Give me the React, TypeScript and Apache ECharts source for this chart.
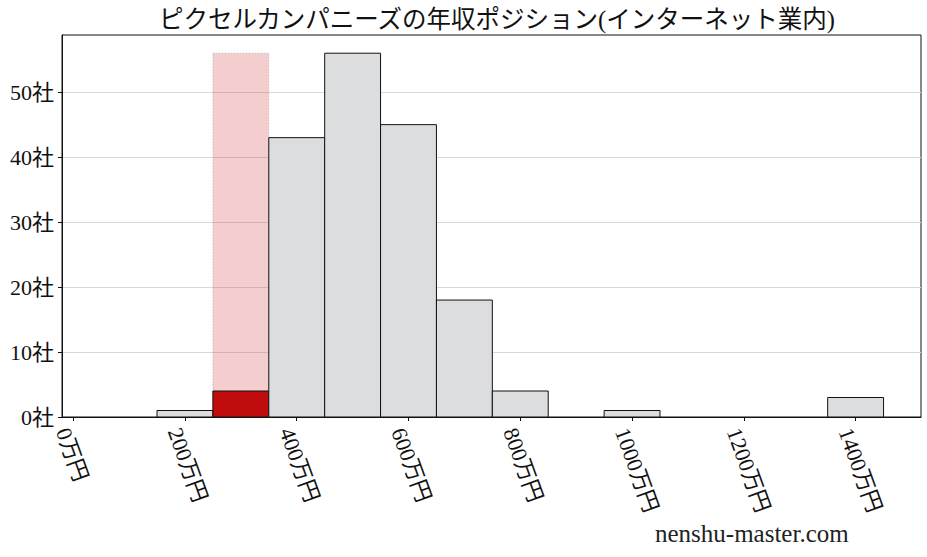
import React, { useEffect, useRef } from "react";
import * as echarts from "echarts";

const title = "ピクセルカンパニーズの年収ポジション(インターネット業内)";
const binStarts = [150, 250, 350, 450, 550, 650, 750, 950, 1350];
const binWidth = 100;
const counts = [1, 4, 43, 56, 45, 18, 4, 1, 3];
const highlightIndex = 1;
const xTicks = [0, 200, 400, 600, 800, 1000, 1200, 1400];
const yTicks = [0, 10, 20, 30, 40, 50];
const watermark = "nenshu-master.com";

const FONT = "'Liberation Serif', 'Noto Sans CJK JP', serif";

export default function App() {
  const ref = useRef<HTMLDivElement>(null);
  useEffect(() => {
    if (!ref.current) return;
    const chart = echarts.init(ref.current, undefined, { renderer: "svg" });
    const maxCount = Math.max(...counts);
    const barData = counts.map((c, i) => [binStarts[i], binStarts[i] + binWidth, c, i]);
    const bandData = [[binStarts[highlightIndex], binStarts[highlightIndex] + binWidth, maxCount]];
    chart.setOption({
      animation: false,
      backgroundColor: "#fff",
      textStyle: { fontFamily: FONT },
      title: {
        text: title,
        left: 492,
        textAlign: "center",
        top: 2,
        textStyle: { fontFamily: FONT, fontSize: 24.5, fontWeight: "normal", color: "#111" },
      },
      grid: {
        left: 62,
        right: 6,
        top: 35,
        bottom: 140,
        show: true,
        borderColor: "#111",
        borderWidth: 1,
        backgroundColor: "transparent",
      },
      xAxis: {
        type: "value",
        min: -20,
        max: 1517,
        splitLine: { show: false },
        axisLine: { show: true, onZero: false, lineStyle: { color: "#111", width: 1 } },
        axisTick: { show: true, length: 4, inside: false, customValues: xTicks, lineStyle: { color: "#111" } },
        axisLabel: {
          customValues: xTicks,
          rotate: -70,
          margin: 8,
          verticalAlign: "top",
          fontFamily: FONT,
          fontSize: 22,
          color: "#111",
          formatter: (v: number) => `${v}万円`,
        },
      },
      yAxis: {
        type: "value",
        min: 0,
        max: 58.8,
        axisLine: { show: true, onZero: false, lineStyle: { color: "#111", width: 1 } },
        axisTick: { show: true, length: 4, customValues: yTicks, lineStyle: { color: "#111" } },
        splitLine: { show: true, lineStyle: { color: "#d9d9d9", width: 1 } },
        axisLabel: {
          customValues: yTicks,
          margin: 8,
          fontFamily: FONT,
          fontSize: 22,
          color: "#111",
          formatter: (v: number) => `${v}社`,
        },
      },
      graphic: [
        {
          type: "text",
          left: 655,
          top: 521,
          style: { text: watermark, font: `25px ${FONT}`, fill: "#222" },
        },
      ],
      series: [
        {
          type: "custom",
          z: 1,
          data: bandData,
          encode: { x: [0, 1], y: 2 },
          renderItem: (params: any, api: any) => {
            const p0 = api.coord([api.value(0), api.value(2)]);
            const p1 = api.coord([api.value(1), 0]);
            return {
              type: "rect",
              shape: { x: p0[0], y: p0[1], width: p1[0] - p0[0], height: p1[1] - p0[1] },
              style: { fill: "rgba(204, 30, 30, 0.22)", stroke: "rgba(160,140,140,0.6)", lineWidth: 1, lineDash: [1, 2] },
            };
          },
        },
        {
          type: "custom",
          z: 2,
          data: barData,
          encode: { x: [0, 1], y: 2 },
          renderItem: (params: any, api: any) => {
            const p0 = api.coord([api.value(0), api.value(2)]);
            const p1 = api.coord([api.value(1), 0]);
            const hi = api.value(3) === highlightIndex;
            return {
              type: "rect",
              shape: { x: p0[0], y: p0[1], width: p1[0] - p0[0], height: p1[1] - p0[1] },
              style: { fill: hi ? "#c10c0d" : "#dcdddf", stroke: "#111", lineWidth: 1 },
            };
          },
        },
      ],
    });
    return () => chart.dispose();
  }, []);
  return (
    <div
      ref={ref}
      style={{ position: "absolute", left: 0, top: 0, width: 927, height: 557 }}
    />
  );
}
